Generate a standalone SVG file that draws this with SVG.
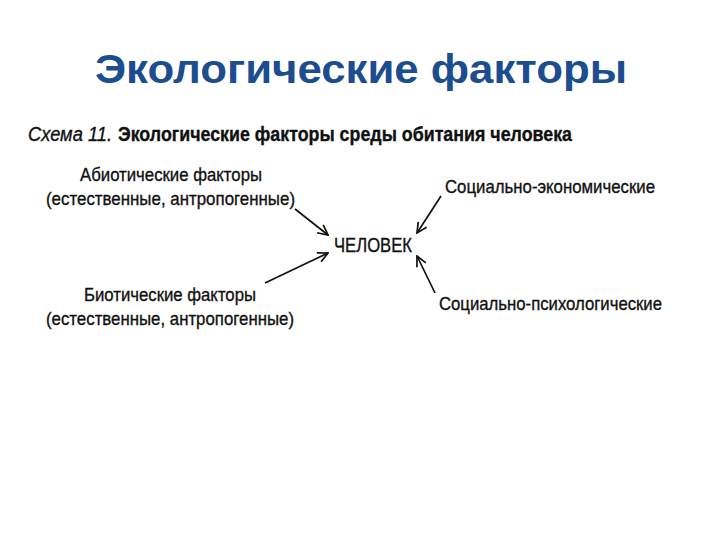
<svg xmlns="http://www.w3.org/2000/svg" width="720" height="540" viewBox="0 0 720 540">
<defs>
<style>
.t{font-family:"Liberation Sans",Arial,sans-serif;fill:#111;stroke:#111;stroke-width:0.35}
.title{font-family:"Liberation Sans",Arial,sans-serif;font-weight:bold;font-size:41px;fill:#1b4d8f}
.n{font-size:19px}
.c{stroke:#111;stroke-width:1.7;fill:none}
</style>
<marker id="ah" viewBox="0 0 12 12" refX="11" refY="6" markerWidth="12" markerHeight="12" markerUnits="userSpaceOnUse" orient="auto">
<polyline points="1,1 11,6 1,11" fill="none" stroke="#111" stroke-width="1.7"/>
</marker>
</defs>
<rect width="720" height="540" fill="#fff"/>
<text class="title" x="95" y="83" textLength="532" lengthAdjust="spacingAndGlyphs">Экологические факторы</text>
<text class="t" x="28" y="141" font-size="20" font-style="italic" textLength="84" lengthAdjust="spacingAndGlyphs">Схема 11.</text>
<text class="t" x="118" y="141" font-size="20" font-weight="bold" textLength="454" lengthAdjust="spacingAndGlyphs">Экологические факторы среды обитания человека</text>
<g id="abiotic">
<text class="t n" x="80" y="181" textLength="182" lengthAdjust="spacingAndGlyphs">Абиотические факторы</text>
<text class="t n" x="46" y="205" textLength="249" lengthAdjust="spacingAndGlyphs">(естественные, антропогенные)</text>
</g>
<g id="biotic">
<text class="t n" x="84" y="301" textLength="172" lengthAdjust="spacingAndGlyphs">Биотические факторы</text>
<text class="t n" x="46" y="325" textLength="248" lengthAdjust="spacingAndGlyphs">(естественные, антропогенные)</text>
</g>
<g id="human">
<text class="t" x="334" y="252" font-size="20" textLength="78" lengthAdjust="spacingAndGlyphs">ЧЕЛОВЕК</text>
</g>
<g id="socioeco">
<text class="t n" x="445" y="193" textLength="210" lengthAdjust="spacingAndGlyphs">Социально-экономические</text>
</g>
<g id="sociopsy">
<text class="t n" x="439" y="310" textLength="223" lengthAdjust="spacingAndGlyphs">Социально-психологические</text>
</g>
<g id="connectors">
<line class="c" x1="295" y1="209" x2="328" y2="235" marker-end="url(#ah)"/>
<line class="c" x1="265" y1="283" x2="328" y2="253" marker-end="url(#ah)"/>
<line class="c" x1="441" y1="196" x2="417" y2="233" marker-end="url(#ah)"/>
<line class="c" x1="435" y1="293" x2="417" y2="256" marker-end="url(#ah)"/>
</g>
</svg>
